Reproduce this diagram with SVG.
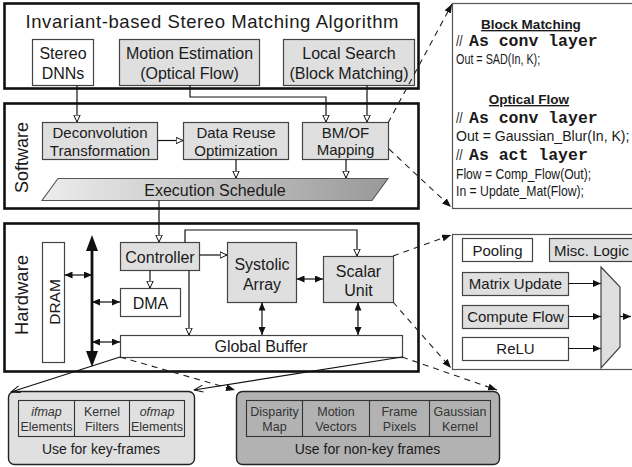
<svg xmlns="http://www.w3.org/2000/svg" width="632" height="467" viewBox="0 0 632 467">
<defs>
<style>
text{font-family:"Liberation Sans",Arial,Helvetica,sans-serif;fill:#1a1a1a}
.c{text-anchor:middle}
.t16{font-size:16px}
.t15{font-size:15px}
.outer{fill:#fff;stroke:#111;stroke-width:2.6}
.wb{fill:#fff;stroke:#444;stroke-width:1.2}
.gb{fill:#dfdfdf;stroke:#444;stroke-width:1.2}
.pnl{fill:#fff;stroke:#555;stroke-width:1.2}
.ln{fill:none;stroke:#111;stroke-width:1.2}
.dl{fill:none;stroke:#222;stroke-width:1.1;stroke-dasharray:6 5}
.code{font-size:15px}
.mono{font-family:"Liberation Mono","Courier New",monospace;font-weight:bold;font-size:16.5px}
.hd{font-weight:bold;font-size:13.5px;text-decoration:underline}
.cell{font-size:12.5px;fill:#333}
</style>
<marker id="ah" viewBox="0 0 8 8" refX="7.5" refY="4" markerWidth="8" markerHeight="8" markerUnits="userSpaceOnUse" orient="auto"><path d="M0.6,0.8 L7.5,4 L0.6,7.2 Z" fill="#fff" stroke="#111" stroke-width="1"/></marker>
<marker id="fa" viewBox="0 0 8 7" refX="8" refY="3.5" markerWidth="8" markerHeight="7" markerUnits="userSpaceOnUse" orient="auto-start-reverse"><path d="M0,0 L8,3.5 L0,7 Z" fill="#111"/></marker>
<marker id="big" viewBox="0 0 16 12" refX="6" refY="6" markerWidth="16" markerHeight="12" markerUnits="userSpaceOnUse" orient="auto-start-reverse"><path d="M0,0 L16,6 L0,12 Z" fill="#111"/></marker>
<marker id="da" viewBox="0 0 9 7" refX="9" refY="3.5" markerWidth="9" markerHeight="7" markerUnits="userSpaceOnUse" orient="auto"><path d="M0,0 L9,3.5 L0,7 Z" fill="#111"/></marker>
<marker id="va" viewBox="0 0 10 8" refX="9.5" refY="4" markerWidth="10" markerHeight="8" markerUnits="userSpaceOnUse" orient="auto"><path d="M0.5,0.5 L9.5,4 L0.5,7.5" fill="none" stroke="#111" stroke-width="1"/></marker>
<linearGradient id="eg" x1="0" x2="1" y1="0" y2="0"><stop offset="0" stop-color="#ededed"/><stop offset="1" stop-color="#999"/></linearGradient>
</defs>

<!-- Algorithm layer -->
<g id="algorithm">
<rect class="outer" x="4.5" y="3.5" width="414" height="85"/>
<text class="c" x="212" y="27.5" font-size="18.5" textLength="373" lengthAdjust="spacing">Invariant-based Stereo Matching Algorithm</text>
</g>
<g id="stereo-dnns">
<rect class="wb" x="32.5" y="39.5" width="61" height="46"/>
<text class="c t16" x="63" y="59">Stereo</text>
<text class="c t16" x="63" y="79">DNNs</text>
</g>
<g id="motion-estimation">
<rect class="gb" x="119.5" y="39.5" width="140" height="46"/>
<text class="c t16" x="189.5" y="59">Motion Estimation</text>
<text class="c t16" x="189.5" y="79" fill="#333">(Optical Flow)</text>
</g>
<g id="local-search">
<rect class="gb" x="283.5" y="39.5" width="131" height="46"/>
<text class="c t16" x="349" y="59">Local Search</text>
<text class="c t16" x="349" y="79" fill="#333">(Block Matching)</text>
</g>

<!-- Software layer -->
<g id="software">
<rect class="outer" x="4.5" y="103.5" width="414" height="105"/>
<text class="c" font-size="18" transform="translate(27.5,157.5) rotate(-90)">Software</text>
</g>
<g id="deconvolution">
<rect class="gb" x="42.5" y="122.5" width="115" height="37"/>
<text class="c t15" x="100" y="138">Deconvolution</text>
<text class="c t15" x="100" y="156">Transformation</text>
</g>
<g id="data-reuse">
<rect class="gb" x="183.5" y="122.5" width="105" height="37"/>
<text class="c t15" x="236" y="138">Data Reuse</text>
<text class="c t15" x="236" y="156">Optimization</text>
</g>
<g id="bmof-mapping">
<rect class="gb" x="302.5" y="122.5" width="86" height="37"/>
<text class="c t15" x="345.5" y="138">BM/OF</text>
<text class="c t15" x="345.5" y="155">Mapping</text>
</g>
<g id="execution-schedule">
<polygon points="58,178.5 388,178.5 372,200.5 42,200.5" fill="url(#eg)" stroke="#555" stroke-width="1.1"/>
<text class="c t16" x="215" y="196">Execution Schedule</text>
</g>

<!-- Hardware layer -->
<g id="hardware">
<rect class="outer" x="4.5" y="223.5" width="414" height="148"/>
<text class="c" font-size="18.5" transform="translate(28,295) rotate(-90)">Hardware</text>
</g>
<g id="dram">
<rect class="wb" x="42.5" y="242.5" width="22" height="120"/>
<text class="c" font-size="15.5" transform="translate(59.5,302) rotate(-90)">DRAM</text>
</g>
<g id="controller">
<rect class="gb" x="120.5" y="242.5" width="79" height="28"/>
<text class="c t16" x="160" y="262.5">Controller</text>
</g>
<g id="dma">
<rect class="wb" x="120.5" y="288.5" width="60" height="28"/>
<text class="c t16" x="150.5" y="308.5">DMA</text>
</g>
<g id="systolic-array">
<rect class="gb" x="227.5" y="242.5" width="69" height="60"/>
<text class="c t16" x="262" y="270">Systolic</text>
<text class="c t16" x="262" y="290">Array</text>
</g>
<g id="scalar-unit">
<rect class="gb" x="323.5" y="256.5" width="70" height="46"/>
<text class="c t16" x="358.5" y="277">Scalar</text>
<text class="c t16" x="358.5" y="296">Unit</text>
</g>
<g id="global-buffer">
<rect class="wb" x="120.5" y="335.5" width="282" height="22"/>
<text class="c t16" x="261" y="352">Global Buffer</text>
</g>

<!-- Code panel -->
<g id="code-panel">
<rect class="pnl" x="452.5" y="3.5" width="190" height="205"/>
<text class="c hd" x="531" y="29">Block Matching</text>
<text class="code" transform="translate(456,46) scale(0.8,1)">//</text><text class="mono" x="469" y="46">As conv layer</text>
<text class="code" transform="translate(456,63.5) scale(0.72,1)">Out = SAD(In, K);</text>
<text class="c hd" x="529" y="104">Optical Flow</text>
<text class="code" transform="translate(456,123) scale(0.8,1)">//</text><text class="mono" x="469" y="123">As conv layer</text>
<text class="code" transform="translate(456,141) scale(0.94,1)">Out = Gaussian_Blur(In, K);</text>
<text class="code" transform="translate(456,160) scale(0.8,1)">//</text><text class="mono" x="469" y="160">As act layer</text>
<text class="code" transform="translate(456,179) scale(0.81,1)">Flow = Comp_Flow(Out);</text>
<text class="code" transform="translate(456,196) scale(0.815,1)">In = Update_Mat(Flow);</text>
</g>

<!-- Scalar unit detail panel -->
<g id="scalar-panel">
<rect class="pnl" x="452.5" y="234.5" width="190" height="135"/>
</g>
<g id="pooling">
<rect class="wb" x="462.5" y="238.5" width="70" height="23"/>
<text class="c t15" x="497.5" y="255.5">Pooling</text>
</g>
<g id="misc-logic">
<rect class="gb" x="549.5" y="238.5" width="95" height="23"/>
<text class="t15" x="554" y="255.5">Misc. Logic</text>
</g>
<g id="matrix-update">
<rect class="gb" x="462.5" y="272.5" width="106" height="23"/>
<text class="c t15" x="515.5" y="289">Matrix Update</text>
</g>
<g id="compute-flow">
<rect class="gb" x="462.5" y="305.5" width="106" height="23"/>
<text class="c t15" x="515.5" y="322">Compute Flow</text>
</g>
<g id="relu">
<rect class="wb" x="462.5" y="337.5" width="106" height="23"/>
<text class="c t15" x="515.5" y="354">ReLU</text>
</g>
<g id="mux">
<polygon points="601,267 620,287 620,347 601,368" fill="#dfdfdf" stroke="#444" stroke-width="1.2"/>
</g>

<!-- Buffer contents -->
<g id="key-frames">
<rect x="8.5" y="391.5" width="186" height="73" rx="6" fill="#e0e0e0" stroke="#222" stroke-width="1.4"/>
<rect x="18.5" y="400.5" width="166" height="36" fill="#e0e0e0" stroke="#333" stroke-width="1.1"/>
<line x1="74.5" y1="400.5" x2="74.5" y2="436.5" stroke="#333" stroke-width="1.1"/>
<line x1="129.5" y1="400.5" x2="129.5" y2="436.5" stroke="#333" stroke-width="1.1"/>
<text class="c cell" x="46.5" y="416" font-style="italic">ifmap</text>
<text class="c cell" x="46.5" y="431">Elements</text>
<text class="c cell" x="102" y="416">Kernel</text>
<text class="c cell" x="102" y="431">Filters</text>
<text class="c cell" x="157" y="416" font-style="italic">ofmap</text>
<text class="c cell" x="157" y="431">Elements</text>
<text class="c" font-size="14" x="101" y="454">Use for key-frames</text>
</g>
<g id="non-key-frames">
<rect x="236.5" y="391.5" width="263" height="73" rx="6" fill="#b2b2b2" stroke="#222" stroke-width="1.4"/>
<rect x="246.5" y="400.5" width="244" height="36" fill="#b2b2b2" stroke="#333" stroke-width="1.1"/>
<line x1="302.5" y1="400.5" x2="302.5" y2="436.5" stroke="#333" stroke-width="1.1"/>
<line x1="369.5" y1="400.5" x2="369.5" y2="436.5" stroke="#333" stroke-width="1.1"/>
<line x1="429.5" y1="400.5" x2="429.5" y2="436.5" stroke="#333" stroke-width="1.1"/>
<text class="c cell" x="274.5" y="416">Disparity</text>
<text class="c cell" x="274.5" y="431">Map</text>
<text class="c cell" x="336" y="416">Motion</text>
<text class="c cell" x="336" y="431">Vectors</text>
<text class="c cell" x="399.5" y="416">Frame</text>
<text class="c cell" x="399.5" y="431">Pixels</text>
<text class="c cell" x="460" y="416">Gaussian</text>
<text class="c cell" x="460" y="431">Kernel</text>
<text class="c" font-size="14" x="367.5" y="454">Use for non-key frames</text>
</g>

<!-- Connectors -->
<g id="connectors">
<g class="ln" marker-end="url(#ah)">
<path d="M77,85.5 V122"/>
<path d="M190,85.5 V97 H326 V122"/>
<path d="M367,85.5 V122"/>
<path d="M157.5,140.5 H183"/>
<path d="M236,159.5 V178"/>
<path d="M346,159.5 V178"/>
<path d="M159,200.5 V242"/>
<path d="M150,270.5 V288"/>
<path d="M199.5,255 H227"/>
<path d="M189,270.5 V335"/>
<path d="M185,242.5 V230 H357 V256"/>
</g>
<g class="ln" marker-start="url(#fa)" marker-end="url(#fa)">
<path d="M64.5,275 H92"/>
<path d="M92,302 H120"/>
<path d="M92,342 H120"/>
<path d="M296.5,279 H323"/>
<path d="M262,302.5 V335"/>
<path d="M358,302.5 V335"/>
</g>
<path d="M92,245 V357" fill="none" stroke="#111" stroke-width="2.8" marker-start="url(#big)" marker-end="url(#big)"/>
<g class="ln" marker-end="url(#fa)">
<path d="M568.5,283.5 H601"/>
<path d="M568.5,316.5 H601"/>
<path d="M568.5,348.5 H601"/>
<path d="M620,316.5 H631"/>
</g>
<g class="dl" marker-end="url(#da)">
<path d="M388,123 L452,4"/>
<path d="M389,149 L451,207"/>
<path d="M393,256 L451,235"/>
<path d="M393,302 L451,368"/>
<path d="M120,357 L235,390"/>
<path d="M402,357 L497,390"/>
</g>
<g class="ln" marker-end="url(#va)">
<path d="M120,357 L11,392"/>
<path d="M402,357 L194,390"/>
</g>
</g>
</svg>
